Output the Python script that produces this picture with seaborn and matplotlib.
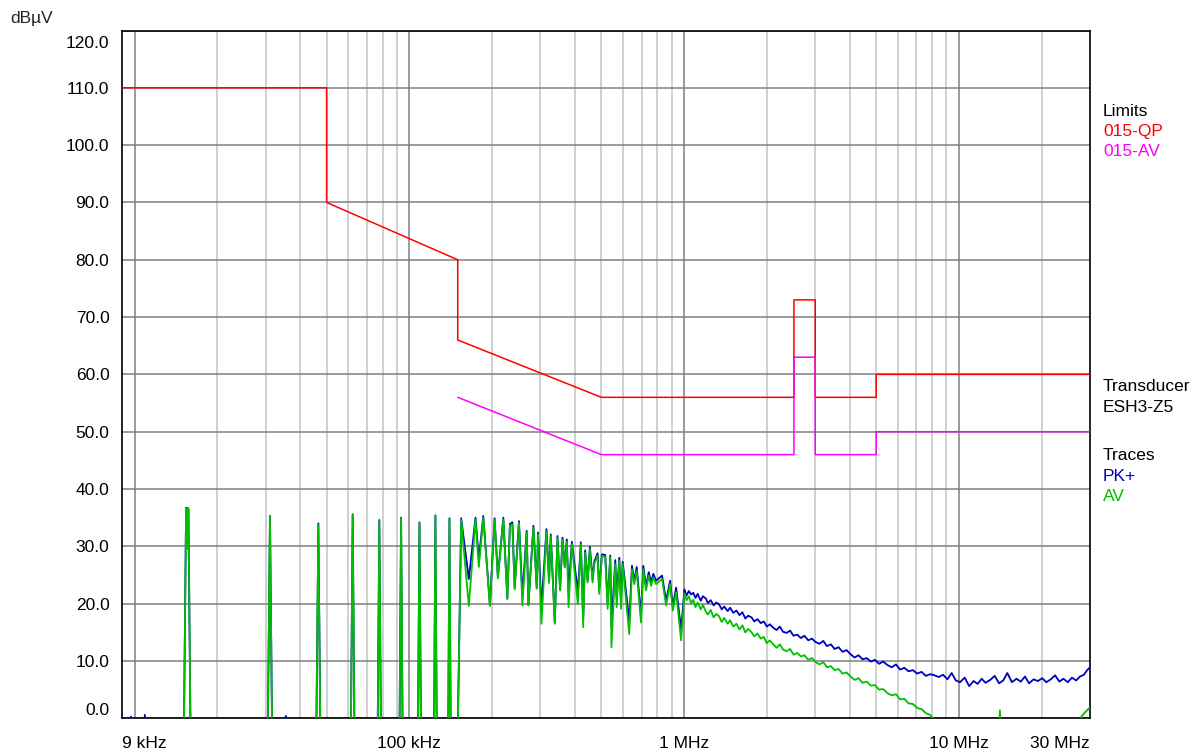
import numpy as np
import pandas as pd
import seaborn as sns
import matplotlib.pyplot as plt
from matplotlib.ticker import NullLocator
from matplotlib.transforms import ScaledTranslation

# --- datos (frecuencia en kHz, nivel en dBuV) ---
# limites CISPR 15
qp_freq = [9, 50, 50, 150, 150, 500, 2510, 2510, 3000, 3000, 5000, 5000, 30000]
qp_level = [110, 110, 90, 80, 66, 56, 56, 73, 73, 56, 56, 60, 60]
av_lim_freq = [150, 500, 2510, 2510, 3000, 3000, 5000, 5000, 30000]
av_lim_level = [56, 46, 46, 63, 63, 46, 46, 50, 50]

# tramo bajo 9-150 kHz: armonicos aislados
lf_freq = [9.0, 9.1, 9.6, 9.7, 9.8, 10.8, 10.9, 11.0, 15.1, 15.4, 15.5, 15.6, 15.7, 16.0,
           30.5, 31.1, 31.7, 35.4, 35.5, 35.6, 45.8, 46.65, 47.5, 61.2, 62.2, 63.2,
           76.6, 77.75, 78.9, 92.0, 93.3, 94.6, 107.4, 108.85, 110.3,
           122.9, 124.4, 125.9, 138.4, 139.95, 141.5]
lf_pk = [0.5, -5, -5, 0.3, -5, -5, 0.6, -5, -5, 36.7, 30.0, 36.7, 36.6, -5,
         -5, 35.3, -5, -5, 0.4, -5, -5, 34.0, -5, -5, 35.6, -5,
         -5, 34.6, -5, -5, 35.0, -5, -5, 34.2, -5,
         -5, 35.4, -5, -5, 34.9, -5]
lf_av = [-5, -5, -5, -5, -5, -5, -5, -5, -5, 36.6, 29.5, 36.6, 36.5, -5,
         -5, 35.2, -5, -5, -5, -5, -5, 33.7, -5, -5, 35.5, -5,
         -5, 34.5, -5, -5, 34.9, -5, -5, 34.1, -5,
         -5, 35.3, -5, -5, 34.8, -5]

# tramo 150 kHz - 1 MHz: peine de armonicos
comb_freq = [149.7, 154.4, 164.6, 174.1, 179.0, 185.8, 196.4, 204.3, 210.0, 219.8,
             227.3, 232.3, 237.1, 241.7, 250.6, 257.9, 267.3, 271.2, 282.8, 290.8,
             294.0, 302.5, 315.5, 322.4, 327.1, 338.3, 346.0, 353.7, 360.9, 367.9,
             374.2, 379.6, 390.3, 410.4, 420.9, 429.1, 436.4, 445.3, 454.0, 464.4,
             470.7, 484.3, 490.9, 502.1, 516.3, 526.8, 538.4, 543.9, 561.6, 568.2,
             580.8, 589.1, 597.6, 631.5, 646.0, 658.6, 672.0, 696.7, 710.3, 726.6,
             743.3, 757.8, 772.6, 790.4, 831.3, 859.7, 889.1, 909.5, 935.1, 975.1, 1002.5]
comb_pk = [-5, 34.9, 24.3, 35.0, 27.8, 35.3, 19.8, 34.9, 24.6, 35.0,
           20.9, 33.9, 34.2, 22.8, 34.4, 21.4, 32.7, 19.8, 33.6, 22.8,
           32.4, 19.4, 33.0, 24.0, 32.1, 16.7, 31.8, 22.5, 31.5, 26.5,
           31.2, 22.0, 30.8, 22.0, 30.7, 17.5, 29.3, 24.0, 29.9, 24.2,
           27.3, 28.8, 22.5, 28.6, 28.5, 20.0, 28.4, 16.0, 27.6, 21.0,
           28.0, 20.5, 27.3, 17.0, 26.6, 24.0, 26.4, 18.0, 26.6, 23.0,
           25.5, 23.8, 25.2, 24.0, 24.9, 20.5, 24.0, 19.5, 22.8, 15.5, 22.5]
comb_av = [-5, 34.6, 19.6, 34.7, 26.4, 35.0, 19.6, 34.6, 24.4, 34.7,
           20.8, 33.6, 33.9, 22.5, 34.1, 19.7, 32.4, 19.7, 33.3, 22.6,
           32.1, 16.5, 32.6, 23.6, 31.8, 16.5, 31.5, 22.3, 31.1, 26.3,
           30.8, 19.4, 30.4, 19.9, 30.4, 15.9, 28.9, 23.7, 29.5, 23.7,
           26.9, 28.4, 21.7, 28.3, 28.2, 19.1, 28.1, 12.4, 26.9, 19.4,
           27.5, 19.1, 26.9, 14.7, 26.0, 23.4, 25.7, 16.7, 26.0, 22.3,
           24.9, 23.1, 24.6, 23.4, 24.3, 19.7, 23.4, 18.8, 22.0, 13.6, 21.8]

# tramo 1-30 MHz (en MHz)
hf_freq = [1.02, 1.04, 1.06, 1.08, 1.10, 1.12, 1.15, 1.17, 1.20, 1.22, 1.25, 1.28,
           1.31, 1.34, 1.37, 1.40, 1.44, 1.47, 1.51, 1.55, 1.59, 1.63, 1.67, 1.71,
           1.76, 1.80, 1.85, 1.90, 1.95, 2.00, 2.05, 2.11, 2.17, 2.23, 2.29, 2.36,
           2.43, 2.50, 2.58, 2.66, 2.74, 2.83, 2.92, 3.01, 3.11, 3.21, 3.31, 3.42,
           3.53, 3.65, 3.77, 3.90, 4.03, 4.17, 4.31, 4.46, 4.62, 4.78, 4.95, 5.12,
           5.30, 5.49, 5.69, 5.90, 6.11, 6.33, 6.56, 6.80, 7.05, 7.31, 7.58, 7.86,
           8.15, 8.45, 8.76, 9.08, 9.41, 9.75, 10.1, 10.5, 10.9, 11.3, 11.7, 12.1,
           12.5, 13.0, 13.5, 14.0, 14.5, 15.0, 15.6, 16.2, 16.8, 17.4, 18.0, 18.7,
           19.4, 20.1, 20.8, 21.6, 22.4, 23.2, 24.0, 24.9, 25.8, 26.7, 27.6, 28.5, 29.3, 30.0]
hf_pk = [21.4, 22.2, 21.6, 21.9, 21.0, 21.7, 20.5, 21.3, 20.9, 20.1, 20.6, 19.7,
         20.2, 19.9, 19.0, 19.5, 18.7, 19.3, 18.4, 18.8, 18.0, 18.5, 17.4, 17.9,
         17.6, 16.9, 17.3, 16.6, 16.9, 16.0, 16.4, 15.8, 15.4, 16.0, 15.1, 14.9,
         15.3, 14.4, 14.6, 14.0, 14.4, 13.6, 13.9, 13.3, 13.0, 13.5, 12.6, 12.9,
         12.1, 12.4, 11.6, 11.9, 11.2, 10.6, 11.0, 10.3, 10.5, 9.9, 10.2, 9.5,
         9.9, 9.3, 8.9, 9.4, 8.5, 8.8, 8.2, 8.4, 7.8, 8.1, 7.4, 7.7,
         7.5, 7.2, 7.6, 6.8, 7.9, 6.6, 6.3, 7.1, 5.6, 6.5, 6.0, 6.9,
         6.2, 6.7, 7.4, 6.1, 6.6, 7.9, 6.3, 6.9, 6.4, 7.3, 6.1, 6.8,
         6.5, 7.0, 6.3, 6.8, 7.5, 6.4, 6.9, 6.3, 7.1, 6.6, 7.3, 7.6, 8.4, 8.9]
hf_av_freq = [1.02, 1.04, 1.06, 1.08, 1.10, 1.12, 1.15, 1.17, 1.20, 1.22, 1.25, 1.28,
              1.31, 1.34, 1.37, 1.40, 1.44, 1.47, 1.51, 1.55, 1.59, 1.63, 1.67, 1.71,
              1.76, 1.80, 1.85, 1.90, 1.95, 2.00, 2.05, 2.11, 2.17, 2.23, 2.29, 2.36,
              2.43, 2.50, 2.58, 2.66, 2.74, 2.83, 2.92, 3.01, 3.11, 3.21, 3.31, 3.42,
              3.53, 3.65, 3.77, 3.90, 4.03, 4.17, 4.31, 4.46, 4.62, 4.78, 4.95, 5.12,
              5.30, 5.49, 5.69, 5.90, 6.11, 6.33, 6.56, 6.80, 7.05, 7.31, 7.58, 7.86,
              8.2, 8.6, 9.0, 13.9, 14.1, 14.3, 27.0, 27.6, 28.6, 30.0]
hf_av = [20.6, 21.3, 20.1, 20.7, 19.4, 20.2, 19.0, 19.8, 18.6, 18.1, 18.9, 17.6,
         18.2, 17.8, 16.8, 17.5, 16.5, 17.1, 16.0, 16.5, 15.5, 16.2, 15.0, 15.6,
         15.0, 14.3, 14.8, 13.9, 14.2, 13.1, 13.6, 12.9, 12.3, 12.9, 12.0, 11.7,
         12.1, 11.1, 11.4, 10.8, 11.0, 10.2, 10.5, 9.8, 9.4, 9.8, 8.9, 9.1,
         8.4, 8.6, 7.8, 8.0, 7.3, 6.7, 7.0, 6.2, 6.4, 5.7, 5.8, 5.0,
         5.1, 4.4, 4.0, 4.2, 3.3, 3.4, 2.6, 2.5, 1.8, 1.6, 0.9, 0.6,
         -0.5, -2.5, -5, -5, 1.4, -5, -5, 0.0, 0.9, 1.9]

pk_freq = lf_freq + comb_freq + [f * 1000 for f in hf_freq]
pk_level = lf_pk + comb_pk + hf_pk
av_freq = lf_freq + comb_freq + [f * 1000 for f in hf_av_freq]
av_level = lf_av + comb_av + hf_av

y_ticks = list(range(0, 121, 10))
x_ticks = [9, 100, 1000, 10000, 30000]
x_labels = ['9 kHz', '100 kHz', '1 MHz', '10 MHz', '30 MHz']

sns.set_style('white')
plt.rcParams['font.family'] = ['Liberation Sans', 'DejaVu Sans']
plt.rcParams['font.size'] = 12.5

fig = plt.figure(figsize=(11.96, 7.51), dpi=100)
ax = fig.add_axes([122 / 1196, 1 - 718.3 / 751, (1090 - 122) / 1196, (718.3 - 30.5) / 751])

# rejilla
for dec in [10, 100, 1000, 10000]:
    ax.axvline(dec, color='#808080', lw=1.1, zorder=1)
    for m in range(2, 10):
        if dec * m < 30000:
            ax.axvline(dec * m, color='#c8c8c8', lw=1.2, zorder=0)
ax.yaxis.grid(True, color='#808080', lw=1.1, zorder=1)
ax.set_axisbelow(True)

# trazas
sns.lineplot(x=pk_freq, y=pk_level, sort=False, estimator=None, ax=ax,
             color='#0000c0', lw=1.3, zorder=3)
sns.lineplot(x=av_freq, y=av_level, sort=False, estimator=None, ax=ax,
             color='#00c000', lw=1.3, zorder=4)
sns.lineplot(x=qp_freq, y=qp_level, sort=False, estimator=None, ax=ax,
             color='#ff0000', lw=1.1, zorder=5)
sns.lineplot(x=av_lim_freq, y=av_lim_level, sort=False, estimator=None, ax=ax,
             color='#ff00ff', lw=1.1, zorder=5)

ax.set_xscale('log')
ax.set_xlim(9, 30000)
ax.set_ylim(0, 120)
ax.set_xticks(x_ticks)
ax.set_xticklabels(x_labels)
ax.xaxis.set_minor_locator(NullLocator())
ax.set_yticks(y_ticks)
ax.set_yticklabels([f'{v:.1f}' for v in y_ticks])
ax.tick_params(axis='both', length=0, labelsize=12.5, colors='black')
ax.tick_params(axis='x', pad=13)
ax.tick_params(axis='y', pad=9)
xl = ax.get_xticklabels()
xl[0].set_ha('left')
xl[-1].set_ha('right')
yl = ax.get_yticklabels()
yl[0].set_va('bottom')
yl[-1].set_va('top')
yl[-1].set_transform(yl[-1].get_transform() + ScaledTranslation(0, -6 / 100, fig.dpi_scale_trans))
for s in ax.spines.values():
    s.set_color('black')
    s.set_linewidth(1.2)
ax.set_xlabel('')
ax.set_ylabel('')

fig.text(10 / 1196, 1 - 18 / 751, 'dBµV', fontsize=12.5, va='center', ha='left')
tx = 1103 / 1196
leyenda = [('Limits', 'black', 111.7), ('015-QP', '#ff0000', 131.7), ('015-AV', '#ff00ff', 151.7),
           ('Transducer', 'black', 386.7), ('ESH3-Z5', 'black', 408),
           ('Traces', 'black', 455), ('PK+', '#0000c0', 476.7), ('AV', '#00c000', 496.7)]
for txt, col, yy in leyenda:
    fig.text(tx, 1 - yy / 751, txt, color=col, fontsize=12.5, va='center', ha='left')

plt.savefig('out.png', dpi=100)
